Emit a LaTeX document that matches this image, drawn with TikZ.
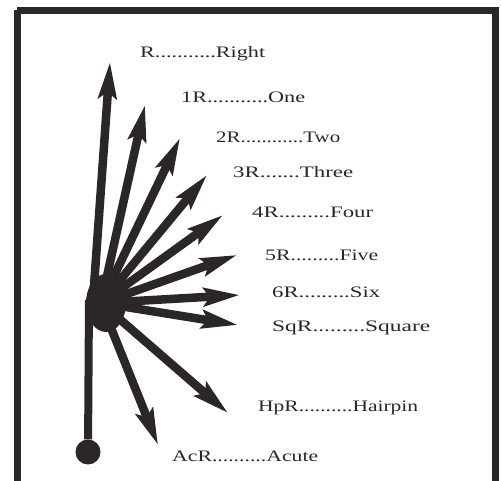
\documentclass[tikz,border=0pt]{standalone}
\usepackage{fontspec}
\setmainfont{Liberation Serif}
\usetikzlibrary{arrows.meta}
\definecolor{ink}{HTML}{2B2727}
\tikzset{
  ray/.style={draw=ink, line width=8.5pt, -{Stealth[length=36pt,width=18pt,inset=6pt]}},
  lbl/.style={anchor=base west, inner sep=0pt, text=ink, font=\fontsize{16}{16}\selectfont},
}
\newcommand{\wlbl}[2]{\resizebox{#1pt}{\height}{#2}}
\begin{document}
\begin{tikzpicture}[x=1pt,y=-1pt]
\useasboundingbox (0,0) rectangle (501,481);
\fill[white] (0,0) rectangle (501,481);
\draw[ink, line width=7pt] (17,10.5) -- (495.5,10.5) -- (495.5,495) (17,10.5) -- (17,495);
% hub and stem
\coordinate (hub) at (106,303);
\coordinate (o) at (101,303);
\coordinate (ro) at (93,300);
\node[circle, fill=ink, minimum size=25pt, inner sep=0pt] (foot) at (88,452) {};
\fill[ink] (hub) ellipse (20 and 29);
\draw[ink, line width=8pt] (89,300) -- (foot);
% tips
\coordinate (tR) at (110,62);
\coordinate (t1) at (145,105);
\coordinate (t2) at (180,138);
\coordinate (t3) at (207,175);
\coordinate (t4) at (223,215);
\coordinate (t5) at (237,255);
\coordinate (t6) at (240,295);
\coordinate (tSq) at (238,325);
\coordinate (tHp) at (228,413);
\coordinate (tAc) at (158,445);
\draw[ray] (ro) -- (tR);
\foreach \t in {t1,t2,t3,t4,t5,t6,tSq,tHp,tAc} \draw[ray] (o) -- (\t);
% labels
\node[lbl] (lR)  at (140,58)  {\wlbl{125}{R...........Right}};
\node[lbl] (l1)  at (181,103) {\wlbl{124}{1R...........One}};
\node[lbl] (l2)  at (216,143) {\wlbl{124}{2R............Two}};
\node[lbl] (l3)  at (233,178) {\wlbl{120}{3R.......Three}};
\node[lbl] (l4)  at (252,218) {\wlbl{121}{4R.........Four}};
\node[lbl] (l5)  at (265,261) {\wlbl{113}{5R.........Five}};
\node[lbl] (l6)  at (272,298) {\wlbl{108}{6R.........Six}};
\node[lbl] (lSq) at (272,331) {\wlbl{158}{SqR.........Square}};
\node[lbl] (lHp) at (258,411) {\wlbl{160}{HpR..........Hairpin}};
\node[lbl] (lAc) at (172,461) {\wlbl{146}{AcR..........Acute}};
\end{tikzpicture}
\end{document}
